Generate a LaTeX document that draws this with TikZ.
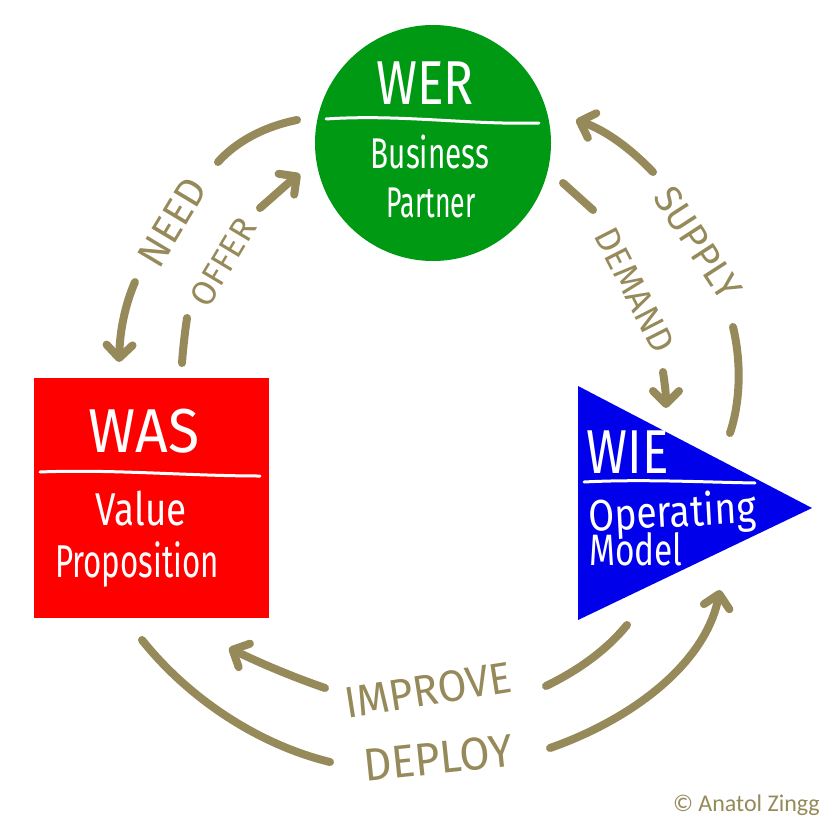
\documentclass[tikz,border=0pt]{standalone}
\usepackage{fontspec}
\setmainfont{Fira Sans}
\newfontfamily\creditfont{Carlito}
\usetikzlibrary{arrows.meta}

\definecolor{werGreen}{RGB}{0,153,20}
\definecolor{wasRed}{RGB}{255,0,0}
\definecolor{wieBlue}{RGB}{0,0,235}
\definecolor{khaki}{RGB}{150,138,90}
% size, horizontal squeeze, text
\newcommand{\hand}[3]{{\fontsize{#1}{#1}\selectfont\scalebox{#2}[1]{#3}}}

\begin{document}
\begin{tikzpicture}[x=1pt,y=-1pt,
    flow/.style={khaki,line width=8,line cap=round},
    tip/.style={-{Straight Barb[length=13pt,width=26pt,round]}},
    title/.style={text=white,inner sep=0pt,anchor=base},
    verb/.style={text=khaki,inner sep=0pt}]
    \fill[white](0,0) rectangle (830,840);
    \useasboundingbox(0,0) rectangle (830,840);

    % the three blocks
    \node[circle,fill=werGreen,minimum size=236,inner sep=0pt] (wer) at (433,143) {};
    \node[rectangle,fill=wasRed,minimum width=235,minimum height=240,inner sep=0pt] (was) at (151,498) {};
    \fill[wieBlue](578,386) -- (812,508) -- (578,620) -- cycle;
    \coordinate (wie) at (656,504);

    \node[title] (werT) at (425,105) {\hand{62}{0.8}{WER}};
    \draw[white,line width=3,line cap=round](326,119) .. controls (400,114) and (470,125) .. (539,123);
    \node[title] (werA) at (430,168) {\hand{43}{0.69}{Business}};
    \node[title] (werB) at (431,217) {\hand{43}{0.62}{Partner}};

    \node[title] (wasT) at (144,452) {\hand{62}{0.92}{WAS}};
    \draw[white,line width=3,line cap=round](40,472) .. controls (110,469) and (190,476) .. (260,476);
    \node[title] (wasA) at (141,525) {\hand{46}{0.8}{Value}};
    \node[title] (wasB) at (137,577) {\hand{46}{0.68}{Proposition}};

    \node[title] (wieT) at (628,473) {\hand{62}{0.8}{WIE}};
    \draw[white,line width=3,line cap=round](584,482) .. controls (640,479) and (700,482) .. (755,483);
    \node[title,rotate=3] (wieA) at (673,527) {\hand{44}{0.85}{Operating}};
    \node[title] (wieB) at (636,565) {\hand{44}{0.76}{Model}};

    % the labels on the arrows
    \node[verb,rotate=59] (need) at (172,222) {\hand{40}{1}{NEED}};
    \node[verb,rotate=59] (offer) at (223,262) {\hand{34}{1}{OFFER}};
    \node[verb,rotate=-57] (supply) at (698,243) {\hand{38}{1}{SUPPLY}};
    \node[verb,rotate=-63] (demand) at (635,290) {\hand{35}{1}{DEMAND}};
    \node[verb,rotate=9] (improve) at (428,690) {\hand{44}{0.95}{IMPROVE}};
    \node[verb,rotate=6] (deploy) at (438,758) {\hand{46}{0.95}{DEPLOY}};

    % free ends of the arrows
    \coordinate (needA) at (297,120);
    \coordinate (needB) at (218,162);
    \coordinate (needC) at (135,282);
    \coordinate (needD) at (119,362);
    \coordinate (offerA) at (182,363);
    \coordinate (offerB) at (187,318);
    \coordinate (offerC) at (260,208);
    \coordinate (offerD) at (300,174);
    \coordinate (supplyA) at (730,433);
    \coordinate (supplyB) at (733,327);
    \coordinate (supplyC) at (653,172);
    \coordinate (supplyD) at (576,120);
    \coordinate (demandA) at (563,183);
    \coordinate (demandB) at (593,210);
    \coordinate (demandC) at (663,372);
    \coordinate (demandD) at (666,408);
    \coordinate (improveA) at (627,625);
    \coordinate (improveB) at (546,686);
    \coordinate (improveC) at (325,688);
    \coordinate (improveD) at (229,648);
    \coordinate (deployA) at (142,640);
    \coordinate (deployB) at (330,762);
    \coordinate (deployC) at (550,748);
    \coordinate (deployD) at (720,590);

    \draw[flow](needA) .. controls (262,127) and (235,143) .. (needB);
    \draw[flow,tip](needC) .. controls (125,305) and (120,330) .. (needD);
    \draw[flow](offerA) .. controls (183,348) and (185,332) .. (offerB);
    \draw[flow,tip](offerC) .. controls (275,195) and (288,183) .. (offerD);
    \draw[flow](supplyA) .. controls (741,400) and (741,360) .. (supplyB);
    \draw[flow,tip](supplyC) .. controls (630,148) and (605,130) .. (supplyD);
    \draw[flow](demandA) -- (demandB);
    \draw[flow,tip](demandC) .. controls (665,385) and (666,395) .. (demandD);
    \draw[flow](improveA) .. controls (605,652) and (575,672) .. (improveB);
    \draw[flow,tip](improveC) .. controls (290,676) and (258,662) .. (improveD);
    \draw[flow](deployA) .. controls (190,700) and (260,745) .. (deployB);
    \draw[flow,tip](deployC) .. controls (630,720) and (705,665) .. (deployD);

    \node[text=khaki,anchor=east,inner sep=0pt] (credit) at (820,805) {\creditfont\fontsize{24}{24}\selectfont\textcopyright\ Anatol Zingg};
\end{tikzpicture}
\end{document}
